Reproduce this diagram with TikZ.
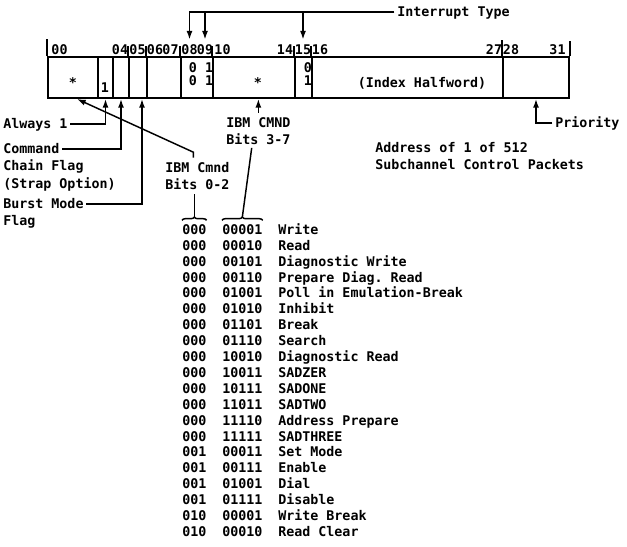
\documentclass[tikz,border=0pt]{standalone}
\usepackage{fontspec}
\setmonofont{DejaVu Sans Mono}
\usetikzlibrary{arrows.meta, positioning, decorations.pathreplacing}

\begin{document}
\begin{tikzpicture}[x=0.75pt, y=-0.75pt,
    every node/.style={font=\ttfamily\bfseries\fontsize{10}{12}\selectfont, inner sep=0pt, text height=7.3pt, text depth=0pt},
    cell/.style={draw, line width=1.5pt, minimum height=30.75pt},
    tick/.style={line width=1.5pt},
    lead/.style={line width=1.1pt},
    arr/.style={lead, -{Latex[length=6.5pt, width=4.5pt]}},
    brc/.style={lead, decorate, decoration={brace, amplitude=2.5pt, aspect=0.5}}]
  \useasboundingbox (0,0) rectangle (627,546);
  % register cells
  \foreach \cl/\lft/\rgt in {c0/48/98, c1/98/113, c2/113/129, c3/129/147, c4/147/181, c5/181/213, c6/213/295, c7/295/312, c8/312/503, c9/503/569} {
    \node[cell, minimum width={(\rgt-\lft)*0.75pt}] (\cl) at ({(\lft+\rgt)/2}, 77.5) {};
  }
  % ticks between bit numbers
  \foreach \cl in {c3, c4, c5, c6, c7, c8} {
    \draw[tick] (\cl.north west) -- ++(0,-10);
  }
  \draw[tick] (c0.north west) -- ++(0,-17);
  \draw[tick] (c9.north west) -- ++(0,-16);
  \draw[tick] (c9.north east) -- ++(0,-15);
  % bit numbers
  \foreach \bit/\xb in {00/59.5, 04/120, 05/137.5, 06/155, 07/170.5, 08/189.5, 09/205, 10/222.5, 14/285, 15/303, 16/320, 27/494, 28/511, 31/557.5} {
    \node (b\bit) at (\xb, 50) {\bit};
  }
  % cell contents
  \node (s0) at (73, 83) {*};
  \node (one) at (105, 88) {1};
  \node (it1) at (201, 67.5) {0 1};
  \node (it2) at (201, 80.5) {0 1};
  \node (s6) at (258, 83) {*};
  \node (it3) at (308, 67.5) {0};
  \node (it4) at (308, 81) {1};
  \node (idx) at (422, 83) {(Index Halfword)};
  % labels
  \node[anchor=west] (intr) at (397, 12) {Interrupt Type};
  \node[anchor=west] (prio) at (555, 123) {Priority};
  \node[anchor=west] (always) at (3, 124) {Always 1};
  \node[anchor=west] (cmd) at (3, 149) {Command};
  \node[below right=5.1pt and 0pt of cmd.south west] (chain) {Chain Flag};
  \node[below right=5.1pt and 0pt of chain.south west] (strap) {(Strap Option)};
  \node[anchor=west] (burst) at (3, 204) {Burst Mode};
  \node[below right=5.1pt and 0pt of burst.south west] (flag) {Flag};
  \node[anchor=west] (ibmhi) at (226, 123) {IBM CMND};
  \node[below right=5.1pt and 0pt of ibmhi.south west] (bitshi) {Bits 3-7};
  \node[anchor=west] (ibmlo) at (165, 168) {IBM Cmnd};
  \node[below right=5.1pt and 0pt of ibmlo.south west] (bitslo) {Bits 0-2};
  \node[anchor=west] (addr) at (375, 148) {Address of 1 of 512};
  \node[below right=5.1pt and 0pt of addr.south west] (subch) {Subchannel Control Packets};
  % command table
  \foreach \hib/\lob/\what [count=\i from 0] in {000/00001/Write, 000/00010/Read, 000/00101/Diagnostic Write, 000/00110/Prepare Diag. Read, 000/01001/Poll in Emulation-Break, 000/01010/Inhibit, 000/01101/Break, 000/01110/Search, 000/10010/Diagnostic Read, 000/10011/SADZER, 000/10111/SADONE, 000/11011/SADTWO, 000/11110/Address Prepare, 000/11111/SADTHREE, 001/00011/Set Mode, 001/00111/Enable, 001/01001/Dial, 001/01111/Disable, 010/00001/Write Break, 010/00010/Read Clear} {
    \node[anchor=west] (hi\i) at (182, {229.5+15.9*\i}) {\hib};
    \node[anchor=west] (lo\i) at (222, {229.5+15.9*\i}) {\lob};
    \node[anchor=west] (op\i) at (278, {229.5+15.9*\i}) {\what};
  }
  % braces over the first row
  \draw[brc] ([yshift=3pt]hi0.north west) -- ([yshift=3pt]hi0.north east);
  \draw[brc] ([yshift=3pt]lo0.north west) -- ([yshift=3pt]lo0.north east);
  \coordinate (tiplo) at ([yshift=5.5pt]hi0.north);
  \coordinate (tiphi) at ([yshift=5.5pt]lo0.north);
  % connectors
  \draw[arr] ([xshift=-2pt]intr.west) -| ([yshift=4pt]b08.north);
  \draw[arr] (b09.north |- intr.west) -- ([yshift=4pt]b09.north);
  \draw[arr] (b15.north |- intr.west) -- ([yshift=4pt]b15.north);
  \draw[arr] ([xshift=-2pt]prio.west) -| (c9.south);
  \draw[arr] ([xshift=2pt]always.east) -| (c1.south);
  \draw[arr] ([xshift=2pt]cmd.east) -| (c2.south);
  \draw[arr] ([xshift=2pt]burst.east) -| ([xshift=3pt]c3.south);
  \draw[arr] ([yshift=4pt]ibmhi.north) -- (ibmhi.north |- c6.south);
  \draw[lead] ([xshift=-5pt, yshift=-2pt]bitshi.south) -- (tiphi);
  \draw[arr] ([xshift=-3pt, yshift=4pt]ibmlo.north) -- ++(0,4pt) -- ([xshift=3pt]c0.south);
  \draw[lead] (tiplo) -- ([yshift=-3pt]tiplo |- bitslo.south);
\end{tikzpicture}
\end{document}
